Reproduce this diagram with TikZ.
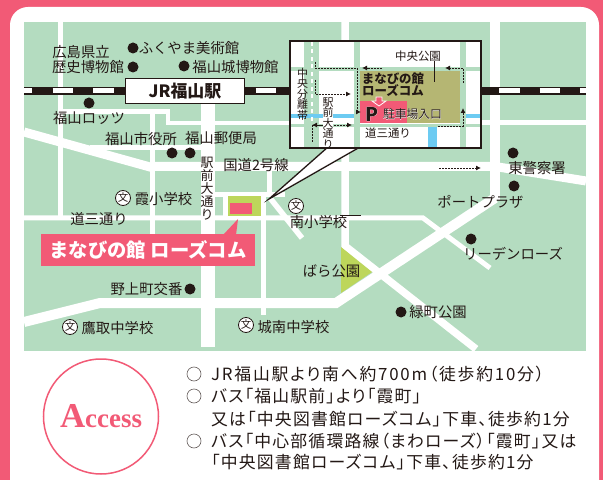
\documentclass[tikz,border=0pt]{standalone}
\usepackage{fontspec}
\setmainfont{Noto Sans CJK JP}
\newfontfamily\jpf{Noto Sans CJK JP}
\newfontfamily\jpp[RawFeature={+palt},LetterSpace=7.2]{Noto Sans CJK JP}
\newfontfamily\jpw[RawFeature={+palt},LetterSpace=10.5]{Noto Sans CJK JP}
\newfontfamily\halof[FakeBold=1.2]{Noto Sans CJK JP}
\newfontfamily\accf{Liberation Serif}
\definecolor{rosepink}{HTML}{F25A76}
\definecolor{mapgreen}{HTML}{B4DCC0}
\definecolor{ink}{HTML}{231815}
\definecolor{leaf}{HTML}{BDD65B}
\definecolor{olive}{HTML}{B5B673}
\definecolor{canal}{HTML}{6CCBF2}
\tikzset{
  lbl/.style={font=\jpf\fontsize{14.4}{16}\selectfont,text=ink,inner sep=0pt},
  vlbl/.style={lbl,align=center,font=\jpf\fontsize{13}{13}\selectfont},
  inlbl/.style={lbl,font=\jpf\fontsize{11.5}{13}\selectfont},
  invlbl/.style={lbl,align=center,font=\jpf\fontsize{11}{10.5}\selectfont},
  dotmark/.style={circle,fill=ink,inner sep=0pt,minimum size=11bp},
  schoolmark/.style={circle,draw=ink,fill=white,line width=0.8bp,inner sep=0pt,minimum size=15bp,text=ink,font=\jpf\fontsize{10.5}{11}\selectfont},
  road/.style={draw=white,line cap=butt,line join=miter},
  accline/.style={lbl,anchor=west,font=\jpp\fontsize{16.9}{18}\selectfont},
  ring/.style={circle,draw=ink!70,line width=0.6bp,inner sep=0pt,minimum size=14bp},
  dashway/.style={draw=ink,line width=0.9bp,dash pattern=on 1.6bp off 1.4bp},
  tipped/.style={dashway,-{Latex[length=5bp,width=5bp]}},
}
\usetikzlibrary{arrows.meta}
\begin{document}
\begin{tikzpicture}[x=1bp,y=-1bp]
\useasboundingbox (0,0) rectangle (603,480);
\fill[rosepink] (0,0) rectangle (603,480);
\fill[white,rounded corners=18bp] (10,7) rectangle (599,500);
\fill[mapgreen] (24,22) rectangle (586,351);
% roads
\begin{scope}
\clip (24,22) rectangle (586,351);
\draw[road,line width=5bp] (60.5,22) -- (60.5,217);
\draw[road,line width=5bp] (60,111.5) -- (170,111.5);
\draw[road,line width=4.5bp] (168,110) -- (168,125);
\draw[road,line width=4.5bp] (168,123) -- (300,123);
\draw[road,line width=5bp] (90,147.5) -- (205,147.5);
\draw[road,line width=5bp] (152.5,111) -- (152.5,234);
\draw[road,line width=9bp] (24,132) -- (150,167) -- (155,166.5) -- (495,166.5) -- (586,181);
\draw[road,line width=14bp] (208,100) -- (208,347);
\draw[road,line width=5bp] (24,218) -- (423,218) -- (490,268);
\draw[road,line width=5bp] (269.5,165) -- (269.5,195);
\draw[road,line width=5bp] (205,195) -- (285,195);
\draw[road,line width=5bp] (225.5,195) -- (225.5,218);
\draw[road,line width=5bp] (263.5,195) -- (263.5,315);
\draw[road,line width=5.5bp] (270,198) -- (302,238);
\draw[road,line width=7.5bp] (345,22) -- (345,246) -- (476,349);
\draw[road,line width=10bp] (24,322) -- (100,303) -- (336,303) -- (495,198);
\draw[road,line width=10bp] (495,22) -- (495,200);
\draw[road,line width=5bp] (470,122.5) -- (586,122.5);
\end{scope}
% railway
\draw[ink,line width=7.5bp] (24,91) -- (586,91);
\draw[white,line width=5bp,dash pattern=on 20.5bp off 20.1bp,dash phase=12.1bp] (24,91) -- (586,91);
% park and facility
\fill[leaf] (341,247) -- (372,272) -- (341,293) -- cycle;
\fill[leaf] (228,196) rectangle (261,216);
\fill[rosepink] (230,203) rectangle (252,214);
% pink banner
\fill[rosepink] (223,235) -- (238,219) -- (236,235) -- cycle;
\node[fill=rosepink,text=white,inner sep=0pt,minimum width=214bp,minimum height=32bp,font=\jpf\bfseries\fontsize{19.4}{20}\selectfont] (banner) at (148,250) {まなびの館 ローズコム};
% station
\node[draw=ink,line width=1.4bp,fill=white,inner sep=0pt,minimum width=119bp,minimum height=24.5bp,text=ink,font=\jpf\bfseries\fontsize{17}{18}\selectfont] (station) at (185,91) {JR福山駅};
% labels
\node[lbl] (hiroshima) at (81,52) {広島県立};
\node[lbl] (rekishi) at (88,67) {歴史博物館};
\node[dotmark] (d1) at (133,48) {};
\node[dotmark] (d2) at (133,67) {};
\node[lbl] (fukuyama) at (189,48) {ふくやま美術館};
\node[dotmark] (d3) at (184,66) {};
\node[lbl] (castle) at (235.5,67) {福山城博物館};
\node[dotmark] (d4) at (89,103) {};
\node[lbl] (lots) at (89,118) {福山ロッツ};
\node[lbl] (cityhall) at (141,139) {福山市役所};
\node[lbl] (post) at (221,138) {福山郵便局};
\node[dotmark] (d5) at (172,153) {};
\node[dotmark] (d6) at (190,153) {};
\node[vlbl] (ekimae) at (207,189) {駅\\前\\大\\通\\り};
\node[lbl] (route2) at (256,165) {国道2号線};
\node[schoolmark] (s1) at (123,198) {文};
\node[lbl] (kasumi) at (163.5,199) {霞小学校};
\node[lbl] (dosan) at (99,219) {道三通り};
\node[lbl] (police) at (146.5,289) {野上町交番};
\node[dotmark] (d7) at (190,289) {};
\node[schoolmark] (s2) at (70,327) {文};
\node[lbl] (takatori) at (117.5,328) {鷹取中学校};
\node[schoolmark] (s3) at (246,325) {文};
\node[lbl] (jonan) at (293.5,327) {城南中学校};
\node[schoolmark] (s4) at (296,206) {文};
\node[lbl] (minami) at (318.5,222) {南小学校};
\draw[ink,line width=0.5bp] (340,215) -- (361,215);
\node[dotmark] (d8) at (513,153) {};
\node[lbl] (east) at (537,168) {東警察署};
\node[dotmark] (d9) at (514,186) {};
\node[lbl] (port) at (480.5,202) {ポートプラザ};
\node[dotmark] (d10) at (471,239) {};
\node[lbl] (reeden) at (513,254) {リーデンローズ};
\node[lbl] (bara) at (331.5,271) {ばら公園};
\node[dotmark] (d11) at (401,312) {};
\node[lbl] (midori) at (438,312) {緑町公園};
\coordinate (eastfrom) at (439,168);
\coordinate (eastto) at (481,168);
\draw[tipped] (eastfrom) -- (eastto);
% callout
\coordinate (apex) at (269,199);
\coordinate (cl) at (328,147);
\coordinate (cr) at (360,147);
\fill[white] (apex) -- (cl) -- (cr) -- cycle;
\draw[ink,line width=1.3bp] (cl) -- (apex) -- (cr);
% inset
\fill[white] (290,41) rectangle (481,148);
\fill[mapgreen] (304,41) rectangle (319,148);
\fill[mapgreen] (354,41) rectangle (360,148);
\fill[mapgreen] (460,41) rectangle (466,148);
\fill[mapgreen] (290,67) rectangle (481,71);
\fill[mapgreen] (290,124) rectangle (481,127);
\fill[canal] (290,114.5) rectangle (354,118);
\fill[canal] (466,114.5) rectangle (481,118);
\fill[canal] (428,127) rectangle (437,148);
\fill[olive] (360,71) rectangle (460,123.5);
\fill[rosepink] (360,101) rectangle (407,123.5);
\draw[white,line width=1.5bp,dash pattern=on 4bp off 3.5bp] (312,42) -- (312,124);
% dashed routes in the inset
\coordinate (a0) at (315,62); \coordinate (a1) at (315,68); \coordinate (a2) at (357,68); \coordinate (a3) at (357,112); \coordinate (a4) at (361,112);
\draw[tipped] (a0) -- (a1) -- (a2) -- (a3) -- (a4);
\coordinate (b0) at (315,80); \coordinate (b1) at (315,94); \coordinate (b2) at (351,94);
\draw[tipped] (b0) -- (b1) -- (b2);
\coordinate (c0) at (382,68); \coordinate (c1) at (362,68);
\draw[tipped] (c0) -- (c1);
\coordinate (d0) at (463,83); \coordinate (d01) at (463,68); \coordinate (d02) at (445,68);
\draw[tipped] (d0) -- (d01) -- (d02);
\coordinate (e0) at (438,126); \coordinate (e1) at (463,126); \coordinate (e2) at (463,108);
\draw[tipped] (e0) -- (e1) -- (e2);
\coordinate (f0) at (312,142); \coordinate (f1) at (312,125); \coordinate (f2) at (352,125);
\draw[tipped] (f0) -- (f1) -- (f2);
\coordinate (f3) at (322,125);
\draw[tipped] (f3) -- (f1);
% inset text
\node[inlbl] (park) at (418,56) {中央公園};
\draw[ink,line width=0.8bp] (park.south -| 434,62) -- (434,82);
\node[inlbl,font=\jpf\bfseries\fontsize{12.5}{14}\selectfont] (mn1) at (393,79) {まなびの館};
\node[inlbl,font=\jpf\bfseries\fontsize{12.5}{14}\selectfont] (mn2) at (393,91) {ローズコム};
\node[invlbl] (median) at (302.5,94) {中\\央\\分\\離\\帯};
\node[invlbl,fill=white] (ek2) at (328,123) {駅\\前\\大\\通\\り};
\node[inlbl] (ds2) at (388,133.5) {道三通り};
\fill[rosepink,draw=white,line width=0.8bp] (376,97) -- (382,97) -- (382,101) -- (386,101) -- (379,106) -- (372,101) -- (376,101) -- cycle;
\node[lbl,text=white,font=\halof\bfseries\fontsize{19}{20}\selectfont] (phalo) at (371.5,114) {P};
\node[lbl,font=\jpf\bfseries\fontsize{19}{20}\selectfont] (pmark) at (371.5,114) {P};
\node[inlbl,text=white,font=\halof\fontsize{11.8}{13}\selectfont] (entryhalo) at (412.5,114) {駐車場入口};
\node[inlbl,font=\jpf\fontsize{11.8}{13}\selectfont] (entry) at (412.5,114) {駐車場入口};
\draw[ink,line width=1.5bp] (290,41) rectangle (481,148);
% access panel
\node[circle,draw=rosepink,line width=1.5bp,minimum size=115bp,inner sep=0pt,text=rosepink,font=\accf\bfseries\fontsize{27}{28}\selectfont] (access) at (101,416.5) {{\fontsize{35}{36}\selectfont A}ccess};
\node[ring] (r1) at (194,374) {};
\node[ring] (r2) at (194,396) {};
\node[ring] (r3) at (194,441) {};
\node[accline,font=\jpw\fontsize{16.9}{18}\selectfont] (t1) at (211,374) {JR福山駅より南へ約700m（徒歩約10分）};
\node[accline] (t2) at (211,396.5) {バス「福山駅前」より「霞町」};
\node[accline] (t3) at (211,419) {又は「中央図書館ローズコム」下車、徒歩約1分};
\node[accline] (t4) at (211,441) {バス「中心部循環路線（まわローズ）「霞町」又は};
\node[accline] (t5) at (211,462.5) {「中央図書館ローズコム」下車、徒歩約1分};
\end{tikzpicture}
\end{document}
